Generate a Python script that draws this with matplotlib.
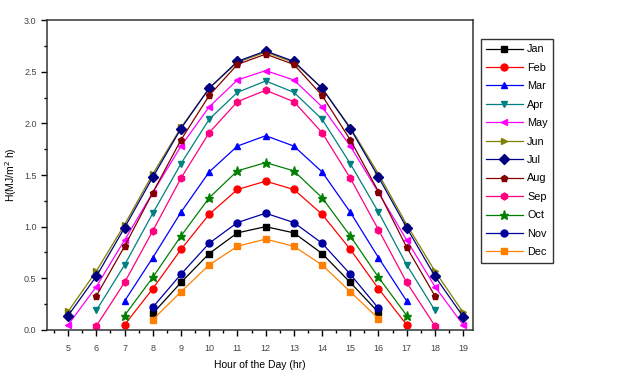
import matplotlib
matplotlib.use("Agg")
import matplotlib.pyplot as plt
from matplotlib.ticker import MultipleLocator

plt.rcParams['font.family'] = ['Liberation Sans', 'DejaVu Sans']

hours = list(range(5, 20))
N = None
jan = [N, N, N, 0.16, 0.46, 0.74, 0.94, 1.00, 0.94, 0.74, 0.46, 0.17, N, N, N]
feb = [N, N, 0.05, 0.40, 0.78, 1.12, 1.36, 1.44, 1.36, 1.12, 0.78, 0.40, 0.05, N, N]
mar = [N, N, 0.28, 0.70, 1.14, 1.53, 1.78, 1.88, 1.78, 1.53, 1.14, 0.70, 0.28, N, N]
apr = [N, 0.19, 0.63, 1.13, 1.61, 2.04, 2.30, 2.41, 2.30, 2.04, 1.61, 1.14, 0.63, 0.19, N]
may = [0.05, 0.42, 0.87, 1.33, 1.78, 2.16, 2.42, 2.51, 2.42, 2.16, 1.78, 1.33, 0.87, 0.42, 0.05]
jun = [0.18, 0.57, 1.02, 1.51, 1.96, 2.34, 2.59, 2.69, 2.59, 2.34, 1.96, 1.51, 1.02, 0.57, 0.17]
jul = [0.14, 0.52, 0.99, 1.48, 1.95, 2.34, 2.60, 2.70, 2.60, 2.34, 1.95, 1.48, 0.99, 0.52, 0.13]
aug = [N, 0.33, 0.81, 1.33, 1.84, 2.27, 2.57, 2.67, 2.57, 2.27, 1.84, 1.34, 0.80, 0.33, N]
sep = [N, 0.04, 0.46, 0.96, 1.47, 1.91, 2.21, 2.32, 2.21, 1.91, 1.47, 0.97, 0.46, 0.04, N]
oct_ = [N, N, 0.14, 0.51, 0.91, 1.28, 1.54, 1.62, 1.54, 1.28, 0.91, 0.51, 0.14, N, N]
nov = [N, N, N, 0.22, 0.54, 0.84, 1.04, 1.13, 1.04, 0.84, 0.54, 0.21, N, N, N]
dec = [N, N, N, 0.10, 0.37, 0.63, 0.81, 0.88, 0.81, 0.63, 0.37, 0.11, N, N, N]

labels = ['Jan', 'Feb', 'Mar', 'Apr', 'May', 'Jun', 'Jul', 'Aug', 'Sep', 'Oct', 'Nov', 'Dec']
series = [jan, feb, mar, apr, may, jun, jul, aug, sep, oct_, nov, dec]
colors = ['#000000', '#FF0000', '#0000FF', '#008080', '#FF00FF', '#808000',
          '#000080', '#800000', '#FF0080', '#008000', '#0000A0', '#FF8000']
markers = ['s', 'o', '^', 'v', '<', '>', 'D', 'p', 'h', '*', 'o', 's']

fig = plt.figure(figsize=(6.17, 3.85), dpi=100)
ax = fig.add_axes([0.0762, 0.1429, 0.6904, 0.8051])

for lab, vals, c, m in zip(labels, series, colors, markers):
    xs = [h for h, v in zip(hours, vals) if v is not None]
    ys = [v for v in vals if v is not None]
    ms = 6.5 if m == '*' else 5
    ax.plot(xs, ys, color=c, marker=m, markersize=ms, linewidth=0.9, label=lab)

ax.set_xlim(4.25, 19.35)
ax.set_ylim(0, 3.0)
ax.xaxis.set_major_locator(MultipleLocator(1))
ax.xaxis.set_minor_locator(MultipleLocator(0.5))
ax.yaxis.set_major_locator(MultipleLocator(0.5))
ax.yaxis.set_minor_locator(MultipleLocator(0.25))
ax.yaxis.set_major_formatter(matplotlib.ticker.FormatStrFormatter('%.1f'))
ax.tick_params(axis='both', which='major', direction='out', length=4, width=1,
               labelsize=6.5, labelcolor='#444444')
ax.tick_params(axis='x', which='major', pad=6)
ax.tick_params(axis='both', which='minor', direction='out', length=2.5, width=1)
for s in ax.spines.values():
    s.set_linewidth(1.1)
    s.set_color('#333333')

ax.set_xlabel('Hour of the Day (hr)', fontsize=7.5, labelpad=5)
ax.set_ylabel('H(MJ/m$^{2}$ h)', fontsize=7.5, labelpad=4)

leg = fig.legend(loc='upper left', bbox_to_anchor=(0.779, 0.899), borderaxespad=0,
                 fontsize=7.8, handlelength=3.4, handletextpad=0.4, labelspacing=0.78,
                 frameon=True, fancybox=False, edgecolor='black', borderpad=0.5)
leg.get_frame().set_linewidth(1.0)

fig.savefig('out.png', dpi=100)
